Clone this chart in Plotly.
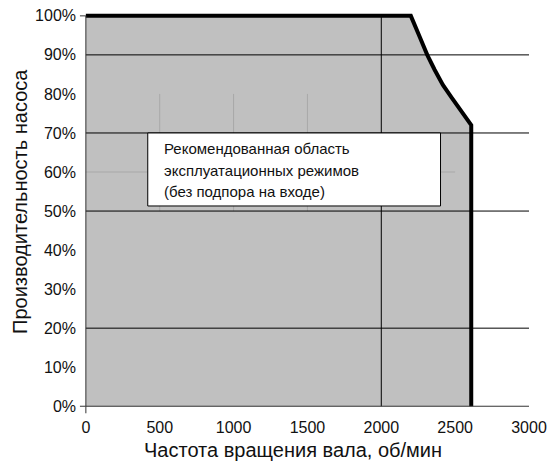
import plotly.graph_objects as go

# ---- data ----
boundary_rpm = [0, 2200, 2259, 2311, 2361, 2417, 2474, 2541, 2609, 2609]
boundary_pct = [100, 100, 94.7, 90, 86.2, 82.3, 79.2, 75.5, 72, 0]
region_rpm = [0] + boundary_rpm
region_pct = [0] + boundary_pct

x_ticks = [0, 500, 1000, 1500, 2000, 2500, 3000]
y_ticks = [0, 10, 20, 30, 40, 50, 60, 70, 80, 90, 100]
y_ticktext = [f"{v}%" for v in y_ticks]

major_h_grid = [20, 50, 70, 90]
major_v_grid = [2000]
minor_v_grid = [500, 1000, 1500]
minor_h_grid = [60]

box_lines = ["Рекомендованная область",
             "эксплуатационных режимов",
             "(без подпора на входе)"]
box_line_y = [65.9, 60.3, 54.95]

x_title = "Частота вращения вала, об/мин"
y_title = "Производительность насоса"

FONT = "Liberation Sans, Arial, sans-serif"

fig = go.Figure()
fig.add_trace(go.Scatter(x=region_rpm, y=region_pct, mode="lines", fill="toself",
                         fillcolor="#c0c0c0", line=dict(width=0), hoverinfo="skip",
                         showlegend=False))

shapes = []
# minor gray grid lines (partial)
for xv in minor_v_grid:
    shapes.append(dict(type="line", xref="x", yref="y", x0=xv, x1=xv, y0=50, y1=80,
                       line=dict(color="#a8a8a8", width=1), layer="above"))
for yv in minor_h_grid:
    shapes.append(dict(type="line", xref="x", yref="y", x0=0, x1=2500, y0=yv, y1=yv,
                       line=dict(color="#a8a8a8", width=1), layer="above"))
# major black grid lines
for yv in major_h_grid:
    shapes.append(dict(type="line", xref="x", yref="y", x0=0, x1=3000, y0=yv, y1=yv,
                       line=dict(color="#000000", width=1), layer="above"))
for xv in major_v_grid:
    shapes.append(dict(type="line", xref="x", yref="y", x0=xv, x1=xv, y0=0, y1=100,
                       line=dict(color="#000000", width=1), layer="above"))
# axes lines
shapes.append(dict(type="line", xref="x", yref="y", x0=0, x1=3000, y0=0, y1=0,
                   line=dict(color="#333333", width=1), layer="above"))
shapes.append(dict(type="line", xref="x", yref="y", x0=0, x1=0, y0=0, y1=100,
                   line=dict(color="#333333", width=1), layer="above"))
# tick marks
for yv in [0, 100]:
    shapes.append(dict(type="line", xref="x", yref="y", x0=-40, x1=0, y0=yv, y1=yv,
                       line=dict(color="#333333", width=1), layer="above"))
shapes.append(dict(type="line", xref="x", yref="y", x0=0, x1=0, y0=-1.8, y1=0,
                   line=dict(color="#333333", width=1), layer="above"))
# text box
shapes.append(dict(type="rect", xref="x", yref="y", x0=419, x1=2401, y0=51.3, y1=70,
                   fillcolor="white", line=dict(color="#000000", width=1), layer="above"))

fig.add_trace(go.Scatter(x=boundary_rpm, y=boundary_pct, mode="lines",
                         line=dict(color="black", width=4),
                         hoverinfo="skip", showlegend=False))

annotations = []
for txt, yv in zip(box_lines, box_line_y):
    annotations.append(dict(x=515, y=yv, xref="x", yref="y", text=txt, showarrow=False,
                            xanchor="left", yanchor="middle",
                            font=dict(family=FONT, size=15, color="#111111")))
annotations.append(dict(x=0.4772, y=-0.0844, xref="paper", yref="paper", text=x_title,
                        showarrow=False, xanchor="center", yanchor="middle",
                        font=dict(family=FONT, size=20, color="#111111")))
annotations.append(dict(x=-0.1263, y=0.5295, xref="paper", yref="paper", text=y_title,
                        showarrow=False, textangle=-90, xanchor="center", yanchor="middle",
                        font=dict(family=FONT, size=20, color="#111111")))

fig.update_layout(
    width=552, height=463, autosize=False,
    margin=dict(l=77.13, r=22.5, t=10.15, b=47.25, pad=0, autoexpand=False),
    paper_bgcolor="white", plot_bgcolor="white",
    shapes=shapes, annotations=annotations,
    xaxis=dict(range=[-60, 3000], tickvals=x_ticks, showgrid=False, zeroline=False,
               showline=False, ticks="", automargin=False,
               tickfont=dict(family=FONT, size=16, color="#111111")),
    yaxis=dict(range=[-2.5, 101.5], tickvals=y_ticks, ticktext=y_ticktext, showgrid=False,
               zeroline=False, showline=False, ticks="", automargin=False,
               tickfont=dict(family=FONT, size=16, color="#111111")),
)

fig.write_html("out.html", config={"displayModeBar": False},
               post_script="document.body.style.margin='0';document.body.style.overflow='hidden';")
